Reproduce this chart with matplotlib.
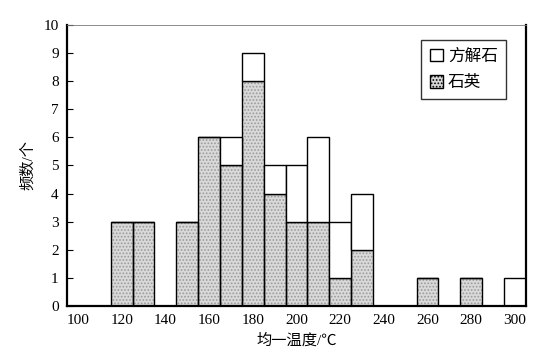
import matplotlib
matplotlib.use('Agg')
import matplotlib.pyplot as plt
import numpy as np
from matplotlib.patches import Patch

plt.rcParams['font.family'] = ['Liberation Serif', 'Noto Sans CJK SC']
plt.rcParams['hatch.color'] = '#9a9a9a'
plt.rcParams['hatch.linewidth'] = 0.8

# homogenization temperature bins (centre, degC) and counts
temps = [120, 130, 150, 160, 170, 180, 190, 200, 210, 220, 230, 260, 280, 300]
quartz = [3, 3, 3, 6, 5, 8, 4, 3, 3, 1, 2, 1, 1, 0]
calcite = [0, 0, 0, 0, 1, 1, 1, 2, 3, 2, 2, 0, 0, 1]
xticks = list(range(100, 301, 20))
yticks = list(range(0, 11))

fig = plt.figure(figsize=(5.38, 3.57), dpi=100)
ax = fig.add_axes([0.1245, 0.143, 0.853, 0.787])

# stipple fill first, then outlines on top
ax.bar(temps, quartz, width=10, color='#d9d9d9', edgecolor='#9a9a9a',
       linewidth=0, hatch='.....')
ax.bar(temps, quartz, width=10, fill=False, edgecolor='black', linewidth=1.0)
ax.bar(temps, calcite, width=10, bottom=quartz, color='white',
       edgecolor='black', linewidth=1.0)

ax.set_xlim(95, 305)
ax.set_ylim(0, 10)
ax.set_xticks(xticks)
ax.set_yticks(yticks)
ax.tick_params(axis='x', length=0, labelsize=11, pad=6)
ax.tick_params(axis='y', direction='in', length=4, labelsize=11, pad=6)
for s in ['left', 'bottom', 'right']:
    ax.spines[s].set_linewidth(1.6)
ax.spines['top'].set_linewidth(0.6)
ax.spines['top'].set_color('#777777')

ax.set_xlabel('均一温度/℃', fontsize=11, labelpad=4)
ax.set_ylabel('频数/个', fontsize=11, labelpad=6)

handles = [Patch(facecolor='white', edgecolor='black', linewidth=1.0),
           Patch(facecolor='#d9d9d9', edgecolor='black', linewidth=1.0, hatch='.....')]
leg = ax.legend(handles, ['方解石', '石英'], loc='upper right',
                bbox_to_anchor=(0.975, 0.975),
                fontsize=12, fancybox=False, edgecolor='black',
                handlelength=0.8, handleheight=0.8, handletextpad=0.3,
                borderpad=0.5, labelspacing=0.6)
leg.get_frame().set_linewidth(1.0)

fig.savefig('out.png', dpi=100)
